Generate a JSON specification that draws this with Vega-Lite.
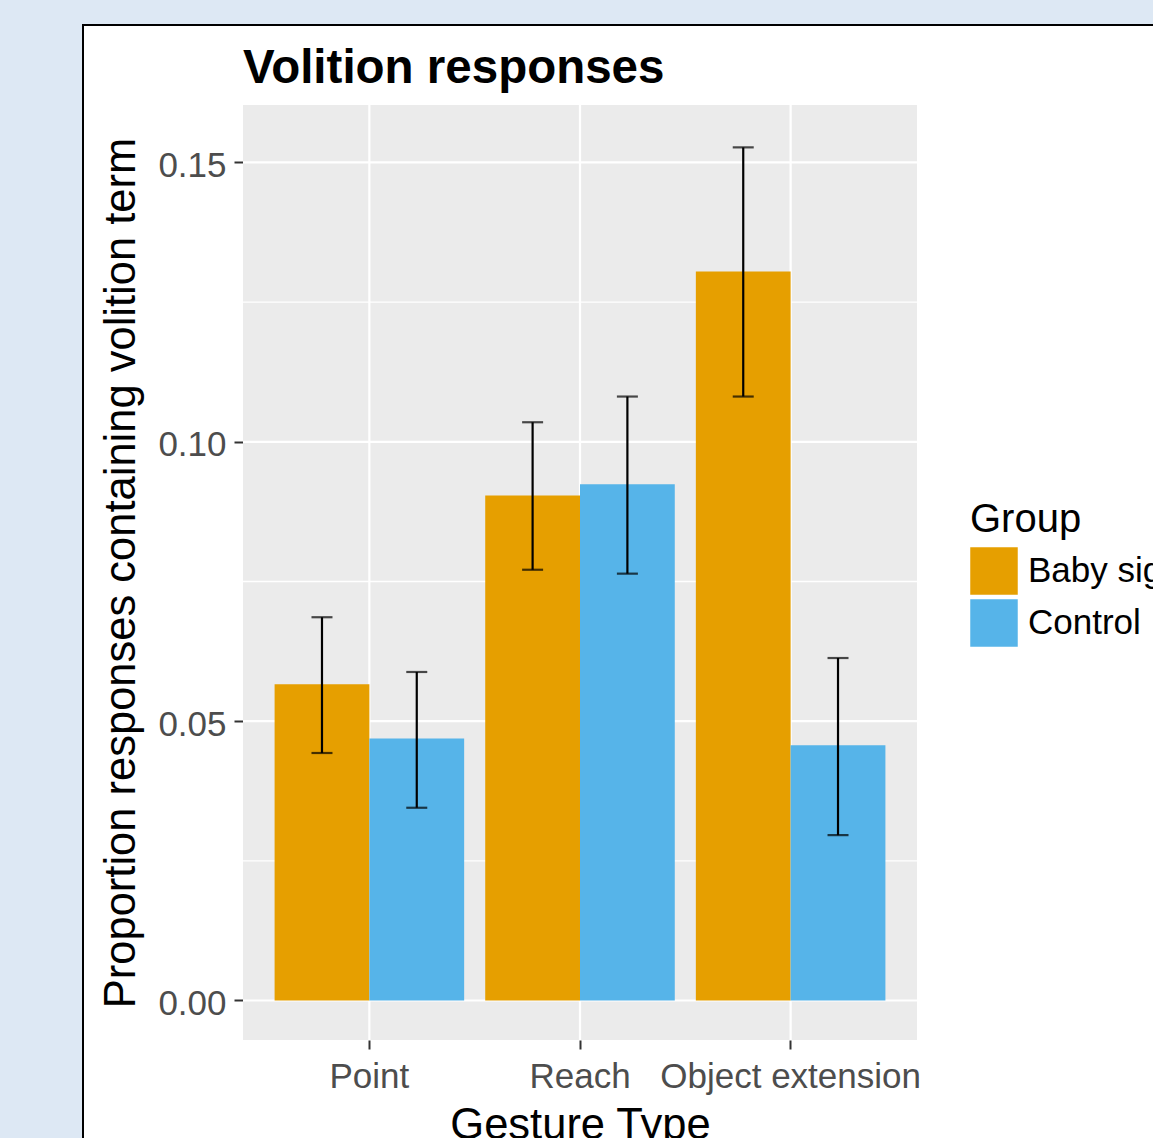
{
  "$schema": "https://vega.github.io/schema/vega-lite/v6.json",
  "width": 1072,
  "height": 1115,
  "autosize": {"type": "none"},
  "padding": {"left": 83, "top": 25, "right": -2, "bottom": -2},
  "background": "#DDE8F4",
  "view": {"fill": "white", "stroke": "black", "strokeWidth": 2},
  "title": {
    "text": "Volition responses",
    "anchor": "start",
    "frame": "group",
    "font": "Liberation Sans",
    "fontSize": 47.5,
    "fontWeight": "bold",
    "color": "black",
    "dx": 160,
    "offset": -67
  },
  "data": {
    "values": [
      {"gesture": "Point", "group": "Baby sign", "prop": 0.0566, "lo": 0.0443, "hi": 0.0686},
      {"gesture": "Point", "group": "Control", "prop": 0.0469, "lo": 0.0345, "hi": 0.0588},
      {"gesture": "Reach", "group": "Baby sign", "prop": 0.0904, "lo": 0.0771, "hi": 0.1035},
      {"gesture": "Reach", "group": "Control", "prop": 0.0924, "lo": 0.0764, "hi": 0.1081},
      {"gesture": "Object extension", "group": "Baby sign", "prop": 0.1305, "lo": 0.1081, "hi": 0.1527},
      {"gesture": "Object extension", "group": "Control", "prop": 0.0457, "lo": 0.0296, "hi": 0.0613}
    ]
  },
  "resolve": {"scale": {"x": "independent"}, "axis": {"x": "independent"}},
  "layer": [
    {
      "data": {"values": [{}]},
      "layer": [
        {"mark": {"type": "rect", "color": "#EBEBEB"},
         "encoding": {
           "x": {"datum": 0.4, "type": "quantitative", "scale": {"domain": [0.4, 3.6], "range": [160, 834], "nice": false, "zero": false}, "axis": null},
           "x2": {"datum": 3.6},
           "y": {"datum": -0.00707, "type": "quantitative", "scale": {"domain": [-0.00707, 0.160283], "range": [1015, 80], "nice": false, "zero": false}},
           "y2": {"datum": 0.160283}
         }},
        {"mark": {"type": "rule", "color": "white", "strokeWidth": 1.3},
         "encoding": {"x": {"datum": 0.4, "type": "quantitative", "axis": null}, "x2": {"datum": 3.6}, "y": {"datum": 0.025, "type": "quantitative"}}},
        {"mark": {"type": "rule", "color": "white", "strokeWidth": 1.3},
         "encoding": {"x": {"datum": 0.4, "type": "quantitative", "axis": null}, "x2": {"datum": 3.6}, "y": {"datum": 0.075, "type": "quantitative"}}},
        {"mark": {"type": "rule", "color": "white", "strokeWidth": 1.3},
         "encoding": {"x": {"datum": 0.4, "type": "quantitative", "axis": null}, "x2": {"datum": 3.6}, "y": {"datum": 0.125, "type": "quantitative"}}},
        {"mark": {"type": "rule", "color": "white", "strokeWidth": 2.2},
         "encoding": {"x": {"datum": 0.4, "type": "quantitative", "axis": null}, "x2": {"datum": 3.6}, "y": {"datum": 0, "type": "quantitative"}}},
        {"mark": {"type": "rule", "color": "white", "strokeWidth": 2.2},
         "encoding": {"x": {"datum": 0.4, "type": "quantitative", "axis": null}, "x2": {"datum": 3.6}, "y": {"datum": 0.05, "type": "quantitative"}}},
        {"mark": {"type": "rule", "color": "white", "strokeWidth": 2.2},
         "encoding": {"x": {"datum": 0.4, "type": "quantitative", "axis": null}, "x2": {"datum": 3.6}, "y": {"datum": 0.1, "type": "quantitative"}}},
        {"mark": {"type": "rule", "color": "white", "strokeWidth": 2.2},
         "encoding": {"x": {"datum": 0.4, "type": "quantitative", "axis": null}, "x2": {"datum": 3.6}, "y": {"datum": 0.15, "type": "quantitative"}}},
        {"mark": {"type": "rule", "color": "white", "strokeWidth": 2.2},
         "encoding": {"x": {"datum": 1, "type": "quantitative", "axis": null}, "y": {"datum": -0.00707, "type": "quantitative"}, "y2": {"datum": 0.160283}}},
        {"mark": {"type": "rule", "color": "white", "strokeWidth": 2.2},
         "encoding": {"x": {"datum": 2, "type": "quantitative", "axis": null}, "y": {"datum": -0.00707, "type": "quantitative"}, "y2": {"datum": 0.160283}}},
        {"mark": {"type": "rule", "color": "white", "strokeWidth": 2.2},
         "encoding": {"x": {"datum": 3, "type": "quantitative", "axis": null}, "y": {"datum": -0.00707, "type": "quantitative"}, "y2": {"datum": 0.160283}}}
      ]
    },
    {
      "layer": [
        {"mark": {"type": "bar"},
         "encoding": {
           "x": {"field": "gesture", "type": "nominal", "title": "Gesture Type",
                 "sort": ["Point", "Reach", "Object extension"],
                 "scale": {"domain": ["Point", "Reach", "Object extension"], "range": [160, 834], "paddingInner": 0.1, "paddingOuter": 0.15, "align": 0.5},
                 "axis": {"orient": "bottom", "offset": -100, "domain": false, "grid": false, "tickSize": 9, "tickWidth": 2, "tickColor": "#333333",
                          "labelAngle": 0, "labelFont": "Liberation Sans", "labelFontSize": 35, "labelColor": "#4D4D4D", "labelPadding": 10,
                          "labelLimit": 500, "labelOverlap": false,
                          "titleFont": "Liberation Sans", "titleFontSize": 43.5, "titleFontWeight": "normal", "titleColor": "black", "titlePadding": 10}},
           "xOffset": {"field": "group", "type": "nominal", "sort": ["Baby sign", "Control"]},
           "y": {"field": "prop", "type": "quantitative", "title": "Proportion responses containing volition term",
                 "scale": {"domain": [-0.00707, 0.160283], "range": [1015, 80], "nice": false, "zero": false},
                 "axis": {"orient": "left", "offset": -160, "values": [0, 0.05, 0.1, 0.15], "format": ".2f", "domain": false, "grid": false,
                          "tickSize": 9, "tickWidth": 2, "tickColor": "#333333",
                          "labelFont": "Liberation Sans", "labelFontSize": 35, "labelColor": "#4D4D4D", "labelPadding": 8, "labelOffset": 3,
                          "title": "Proportion responses containing volition term",
                          "titleFont": "Liberation Sans", "titleFontSize": 43.5, "titleFontWeight": "normal", "titleColor": "black", "titlePadding": 14}},
           "color": {"field": "group", "type": "nominal",
                     "scale": {"domain": ["Baby sign", "Control"], "range": ["#E69F00", "#56B4E9"]},
                     "legend": {"orient": "none", "legendX": 887, "legendY": 475, "title": "Group", "padding": 0,
                                "titleFont": "Liberation Sans", "titleFontSize": 40, "titleFontWeight": "normal", "titleColor": "black", "titlePadding": 7,
                                "labelFont": "Liberation Sans", "labelFontSize": 35, "labelColor": "black", "labelOffset": 10, "labelLimit": 400,
                                "symbolType": "square", "symbolSize": 2256, "symbolStrokeWidth": 0, "symbolOpacity": 1, "rowPadding": 4}}
         }},
        {"mark": {"type": "rule", "color": "black", "strokeWidth": 2.2},
         "encoding": {
           "x": {"field": "gesture", "type": "nominal", "title": "Gesture Type", "sort": ["Point", "Reach", "Object extension"]},
           "xOffset": {"field": "group", "type": "nominal", "sort": ["Baby sign", "Control"]},
           "y": {"field": "lo", "type": "quantitative", "title": "Proportion responses containing volition term"},
           "y2": {"field": "hi"}
         }},
        {"mark": {"type": "tick", "color": "black", "thickness": 2.2, "size": 21},
         "encoding": {
           "x": {"field": "gesture", "type": "nominal", "title": "Gesture Type", "sort": ["Point", "Reach", "Object extension"]},
           "xOffset": {"field": "group", "type": "nominal", "sort": ["Baby sign", "Control"]},
           "y": {"field": "hi", "type": "quantitative", "title": "Proportion responses containing volition term"}
         }},
        {"mark": {"type": "tick", "color": "black", "thickness": 2.2, "size": 21},
         "encoding": {
           "x": {"field": "gesture", "type": "nominal", "title": "Gesture Type", "sort": ["Point", "Reach", "Object extension"]},
           "xOffset": {"field": "group", "type": "nominal", "sort": ["Baby sign", "Control"]},
           "y": {"field": "lo", "type": "quantitative", "title": "Proportion responses containing volition term"}
         }}
      ]
    }
  ]
}
